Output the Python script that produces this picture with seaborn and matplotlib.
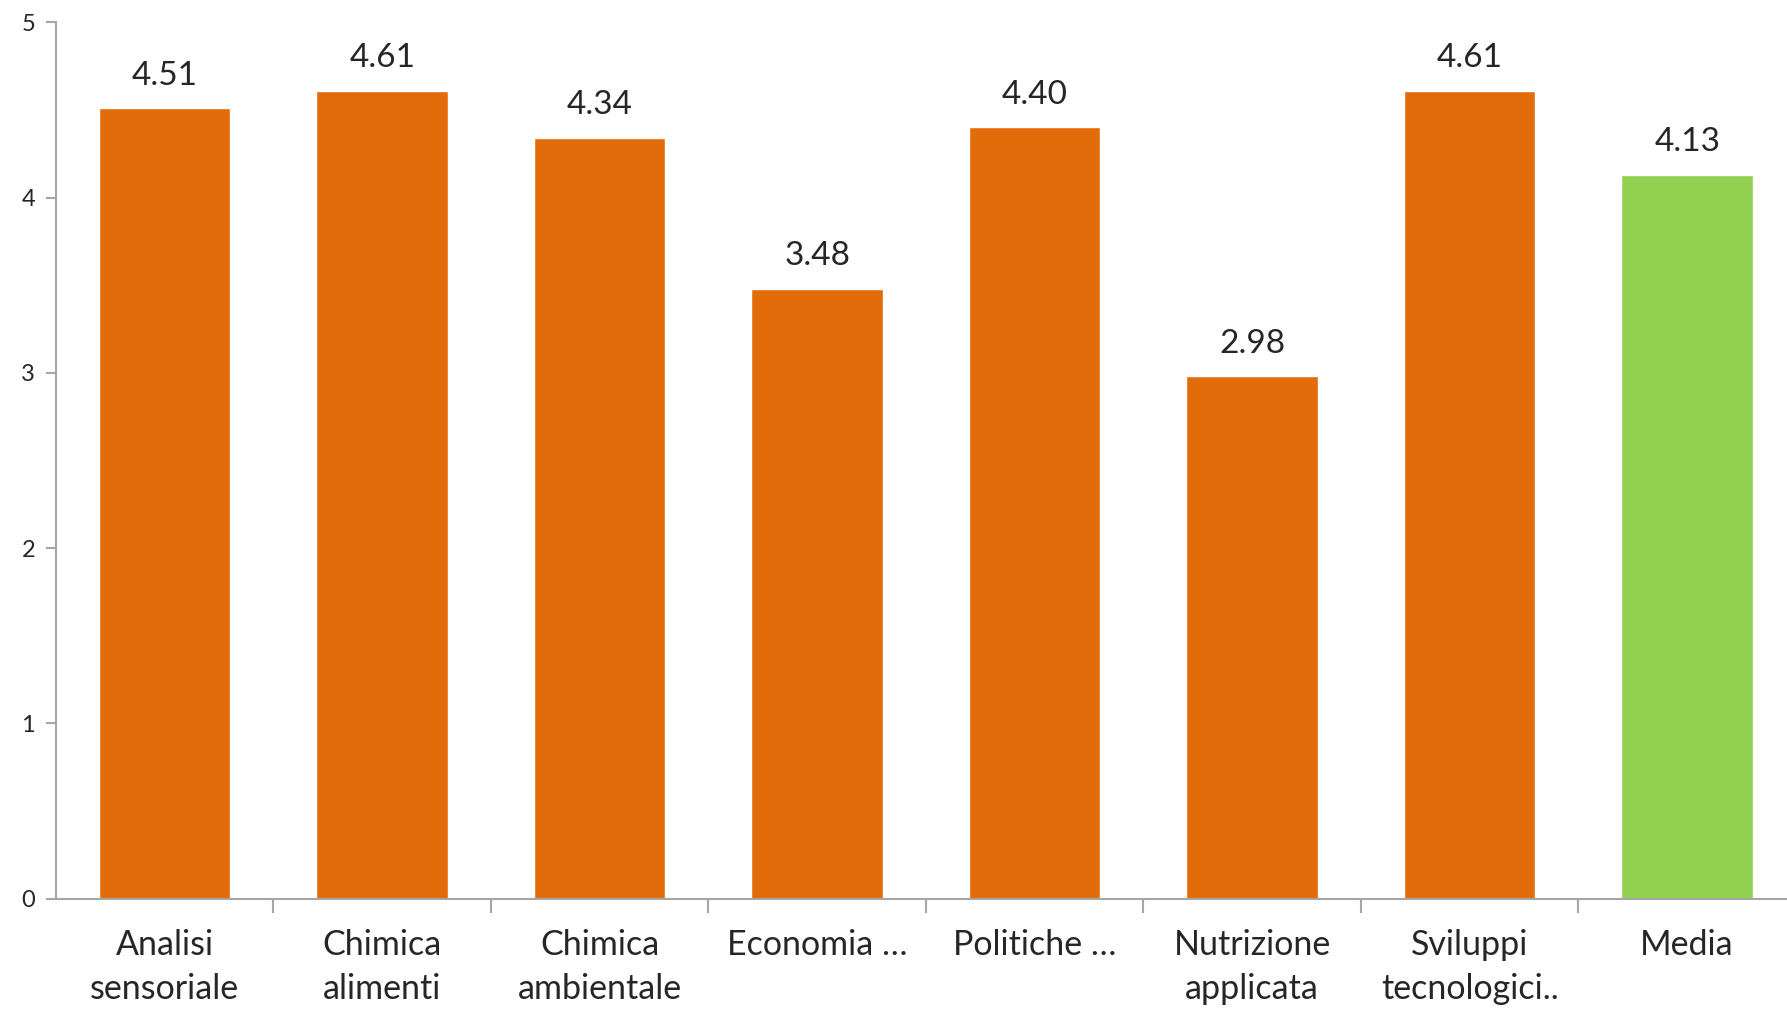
"""bar chart of mean scores per course, seaborn version"""
import matplotlib.pyplot as plt
import numpy as np
import pandas as pd
import seaborn as sns

categories = [
    "Analisi\nsensoriale",
    "Chimica\nalimenti",
    "Chimica\nambientale",
    "Economia …",
    "Politiche …",
    "Nutrizione\napplicata",
    "Sviluppi\ntecnologici..",
    "Media",
]
values = [4.51, 4.61, 4.34, 3.48, 4.40, 2.98, 4.61, 4.13]
bar_colors = ["#E36C0A"] * 7 + ["#92D050"]

sns.set_style("white")
plt.rcParams["font.family"] = ["Lato", "DejaVu Sans"]

df = pd.DataFrame({"Corso": categories, "Valore": values})

fig = plt.figure(figsize=(17.87, 10.11), dpi=100)
ax = fig.add_axes([0.0313, 0.111, 0.9737, 0.867])

sns.barplot(
    data=df,
    x="Corso",
    y="Valore",
    hue="Corso",
    palette=bar_colors,
    legend=False,
    width=0.605,
    saturation=1,
    ax=ax,
)

for i, v in enumerate(values):
    ax.text(i, v + 0.1, f"{v:.2f}", ha="center", va="bottom", fontsize=24)

ax.set_ylim(0, 5)
ax.set_xlim(-0.5, len(categories) - 0.5)
ax.set_yticks(range(6))
ax.set_xlabel("")
ax.set_ylabel("")

gray = "#A6A6A6"
for side in ["top", "right"]:
    ax.spines[side].set_visible(False)
for side in ["left", "bottom"]:
    ax.spines[side].set_color(gray)
    ax.spines[side].set_linewidth(1.5)

ax.tick_params(axis="y", left=True, direction="out", length=7, width=1.5,
               color=gray, labelsize=17, pad=8)
# category separators as minor ticks, labels without ticks
ax.set_xticks(np.arange(0.5, len(categories) - 0.5), minor=True)
ax.tick_params(axis="x", which="major", bottom=True, length=0, labelsize=24.5,
               pad=22)
ax.tick_params(axis="x", which="minor", bottom=True, direction="out",
               length=10, width=1.5, color=gray)
for lab in ax.get_xticklabels():
    lab.set_linespacing(1.45)

fig.savefig("out.png", dpi=100)
